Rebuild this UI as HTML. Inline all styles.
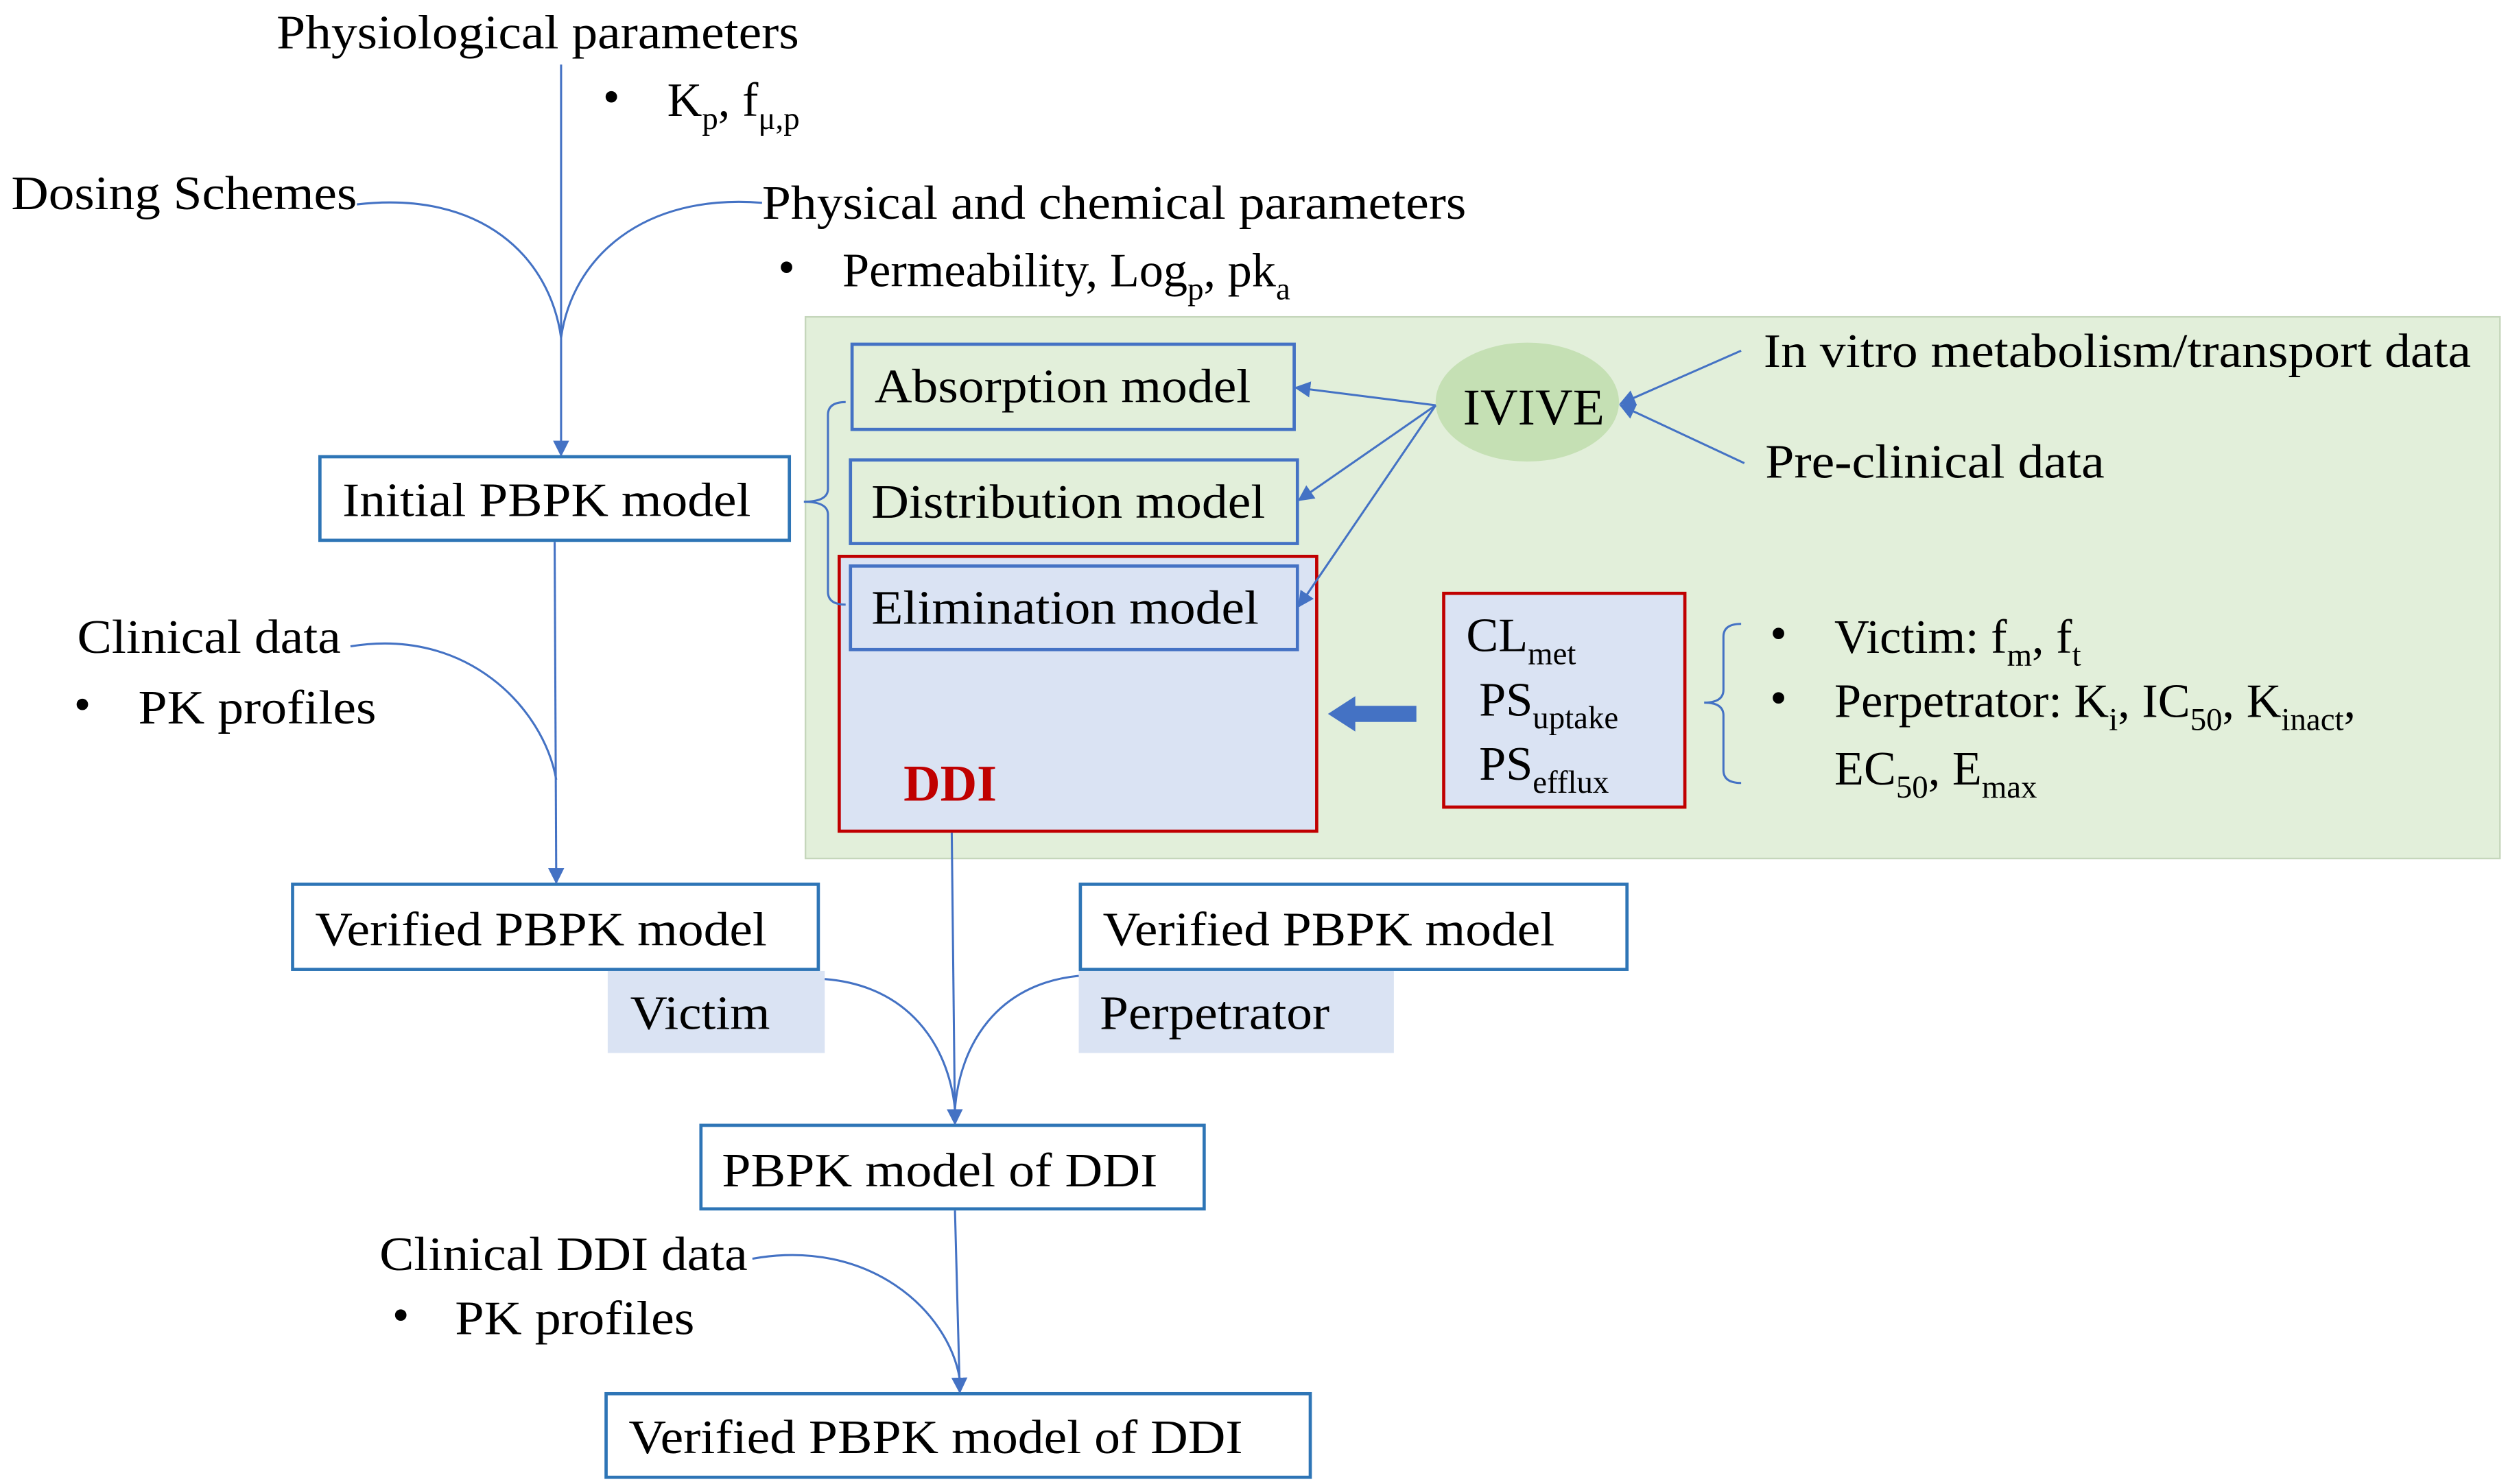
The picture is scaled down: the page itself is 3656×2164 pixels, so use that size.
<!DOCTYPE html>
<html><head><meta charset="utf-8"><style>
html,body{margin:0;padding:0;background:#fff}
svg{display:block}
text{font-family:"Liberation Serif","Times New Roman",serif;font-size:30px;fill:#000}
.s{font-size:20px}
</style></head><body>
<svg width="3656" height="2164" viewBox="0 0 1560 923" xmlns="http://www.w3.org/2000/svg">
<defs>
<marker id="a" viewBox="0 0 10 10" refX="9" refY="5" markerWidth="10" markerHeight="10" orient="auto-start-reverse" markerUnits="userSpaceOnUse"><path d="M0,0L10,5L0,10z" fill="#4472c4"/></marker>
</defs>
<rect x="501" y="197" width="1054" height="337" fill="#e2efda" stroke="#c5d6bb" stroke-width="1"/>
<text x="172" y="30" textLength="325" lengthAdjust="spacingAndGlyphs">Physiological parameters</text>
<text x="375" y="70">•</text>
<text x="415" y="72">K<tspan class="s" dy="8">p</tspan><tspan dy="-8">, f</tspan><tspan class="s" dy="8">μ,p</tspan></text>
<text x="7" y="130" textLength="215" lengthAdjust="spacingAndGlyphs">Dosing Schemes</text>
<text x="474" y="136" textLength="438" lengthAdjust="spacingAndGlyphs">Physical and chemical parameters</text>
<text x="484" y="176">•</text>
<text x="524" y="178">Permeability, Log<tspan class="s" dy="8">p</tspan><tspan dy="-8">, pk</tspan><tspan class="s" dy="8">a</tspan></text>
<rect x="199" y="284" width="292" height="52" fill="#fff" stroke="#2e75b6" stroke-width="2"/>
<text x="213" y="321" textLength="254" lengthAdjust="spacingAndGlyphs">Initial PBPK model</text>
<rect x="530" y="214" width="275" height="53" fill="#e2efda" stroke="#4472c4" stroke-width="2"/>
<text x="544" y="250" textLength="234" lengthAdjust="spacingAndGlyphs">Absorption model</text>
<rect x="529" y="286" width="278" height="52" fill="#e2efda" stroke="#4472c4" stroke-width="2"/>
<text x="542" y="322" textLength="245" lengthAdjust="spacingAndGlyphs">Distribution model</text>
<rect x="522" y="346" width="297" height="171" fill="#dae3f3" stroke="#c00000" stroke-width="2"/>
<rect x="529" y="352" width="278" height="52" fill="#dae3f3" stroke="#4472c4" stroke-width="2"/>
<text x="542" y="388" textLength="241" lengthAdjust="spacingAndGlyphs">Elimination model</text>
<text x="562" y="498" textLength="58" lengthAdjust="spacingAndGlyphs" style="fill:#c00000;font-weight:bold;font-size:32px">DDI</text>
<ellipse cx="950" cy="250" rx="57" ry="37" fill="#c5e0b4"/>
<text x="910" y="264" textLength="88" lengthAdjust="spacingAndGlyphs" style="font-size:32px">IVIVE</text>
<text x="1097" y="228" textLength="440" lengthAdjust="spacingAndGlyphs">In vitro metabolism/transport data</text>
<text x="1098" y="297" textLength="211" lengthAdjust="spacingAndGlyphs">Pre-clinical data</text>
<rect x="898" y="369" width="150" height="133" fill="#dae3f3" stroke="#c00000" stroke-width="2"/>
<text x="912" y="405">CL<tspan class="s" dy="8">met</tspan></text>
<text x="920" y="445">PS<tspan class="s" dy="8">uptake</tspan></text>
<text x="920" y="485">PS<tspan class="s" dy="8">efflux</tspan></text>
<path d="M881,439 L843,439 L843,433 L826,444 L843,455 L843,449 L881,449z" fill="#4472c4"/>
<text x="1101" y="404">•</text>
<text x="1141" y="406">Victim: f<tspan class="s" dy="8">m</tspan><tspan dy="-8">, f</tspan><tspan class="s" dy="8">t</tspan></text>
<text x="1101" y="444">•</text>
<text x="1141" y="446">Perpetrator: K<tspan class="s" dy="8">i</tspan><tspan dy="-8">, IC</tspan><tspan class="s" dy="8">50</tspan><tspan dy="-8">, K</tspan><tspan class="s" dy="8">inact</tspan><tspan dy="-8">,</tspan></text>
<text x="1141" y="488">EC<tspan class="s" dy="8">50</tspan><tspan dy="-8">, E</tspan><tspan class="s" dy="8">max</tspan></text>
<text x="48" y="406" textLength="164" lengthAdjust="spacingAndGlyphs">Clinical data</text>
<text x="46" y="448">•</text>
<text x="86" y="450" textLength="148" lengthAdjust="spacingAndGlyphs">PK profiles</text>
<rect x="182" y="550" width="327" height="53" fill="#fff" stroke="#2e75b6" stroke-width="2"/>
<text x="196" y="588" textLength="281" lengthAdjust="spacingAndGlyphs">Verified PBPK model</text>
<rect x="378" y="604" width="135" height="51" fill="#dae3f3"/>
<text x="392" y="640" textLength="87" lengthAdjust="spacingAndGlyphs">Victim</text>
<rect x="672" y="550" width="340" height="53" fill="#fff" stroke="#2e75b6" stroke-width="2"/>
<text x="686" y="588" textLength="281" lengthAdjust="spacingAndGlyphs">Verified PBPK model</text>
<rect x="671" y="604" width="196" height="51" fill="#dae3f3"/>
<text x="684" y="640" textLength="143" lengthAdjust="spacingAndGlyphs">Perpetrator</text>
<rect x="436" y="700" width="313" height="52" fill="#fff" stroke="#2e75b6" stroke-width="2"/>
<text x="449" y="738" textLength="271" lengthAdjust="spacingAndGlyphs">PBPK model of DDI</text>
<text x="236" y="790" textLength="229" lengthAdjust="spacingAndGlyphs">Clinical DDI data</text>
<text x="244" y="828">•</text>
<text x="283" y="830" textLength="149" lengthAdjust="spacingAndGlyphs">PK profiles</text>
<rect x="377" y="867" width="438" height="52" fill="#fff" stroke="#2e75b6" stroke-width="2"/>
<text x="391" y="904" textLength="382" lengthAdjust="spacingAndGlyphs">Verified PBPK model of DDI</text>
<g fill="none" stroke="#4472c4" stroke-width="1.3">
<line x1="349" y1="40" x2="349" y2="283" marker-end="url(#a)"/>
<path d="M222,127 C300,118 342,160 349,210"/>
<path d="M474,126 C400,120 356,160 349,210"/>
<line x1="345" y1="337" x2="346" y2="549" marker-end="url(#a)"/>
<path d="M218,402 C290,390 338,440 346,485"/>
<line x1="592" y1="518" x2="594" y2="699" marker-end="url(#a)"/>
<path d="M513,609 C565,613 590,650 594,690"/>
<path d="M671,607 C620,612 597,650 594,690"/>
<line x1="594" y1="753" x2="597" y2="866" marker-end="url(#a)"/>
<path d="M468,783 C540,770 590,815 597,858"/>
<line x1="893" y1="252" x2="806" y2="241" marker-end="url(#a)"/>
<line x1="893" y1="252" x2="808" y2="311" marker-end="url(#a)"/>
<line x1="893" y1="252" x2="808" y2="377" marker-end="url(#a)"/>
<line x1="1083" y1="218" x2="1008" y2="251" marker-end="url(#a)"/>
<line x1="1085" y1="288" x2="1008" y2="252" marker-end="url(#a)"/>
<path d="M526,250 Q515,250 515,258 L515,304 Q515,312 500,312 Q515,312 515,320 L515,368 Q515,376 526,376"/>
<path d="M1083,388 Q1072,388 1072,396 L1072,429 Q1072,437 1060,437 Q1072,437 1072,445 L1072,479 Q1072,487 1083,487"/>
</g>
</svg>
</body></html>
